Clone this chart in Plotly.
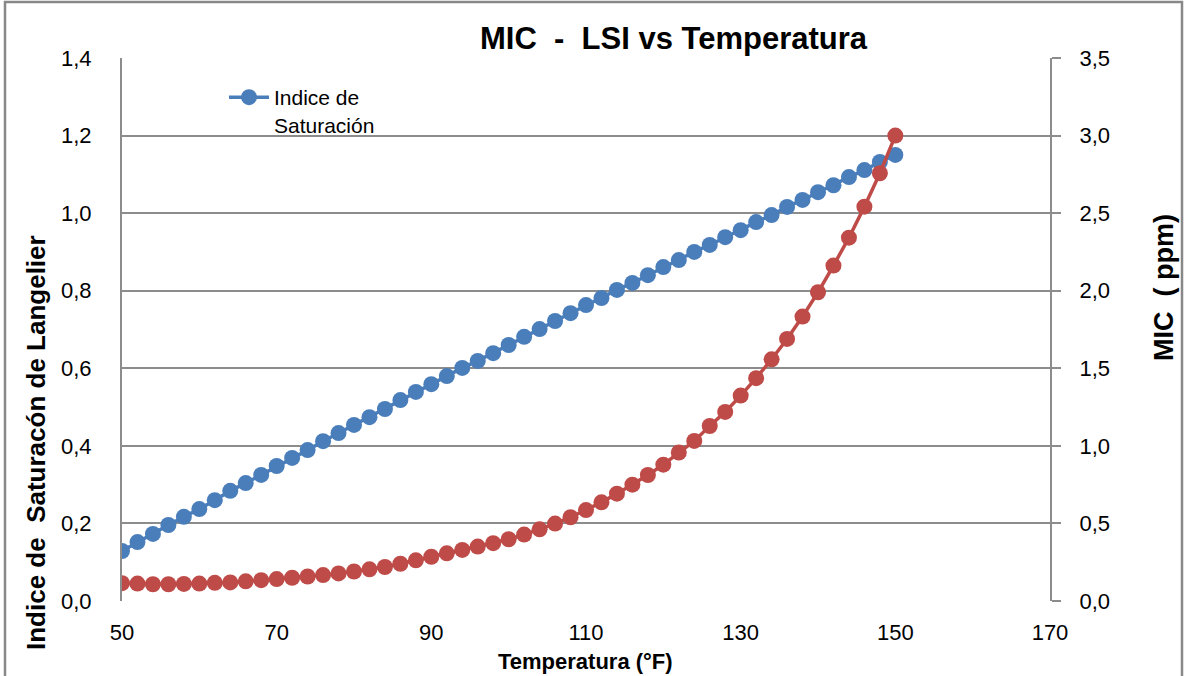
import plotly.graph_objects as go

temp = list(range(50, 151, 2))

lsi = [0.129, 0.152, 0.173, 0.196, 0.217, 0.237, 0.260, 0.284, 0.304, 0.325,
       0.348, 0.369, 0.389, 0.412, 0.433, 0.454, 0.474, 0.495, 0.518, 0.539,
       0.559, 0.580, 0.601, 0.619, 0.639, 0.660, 0.681, 0.701, 0.722, 0.742,
       0.763, 0.781, 0.802, 0.820, 0.840, 0.861, 0.879, 0.900, 0.918, 0.938,
       0.956, 0.977, 0.995, 1.016, 1.034, 1.054, 1.072, 1.093, 1.111, 1.132,
       1.150]

mic = [0.115, 0.112, 0.108, 0.108, 0.110, 0.112, 0.117, 0.120, 0.127, 0.134,
       0.141, 0.150, 0.158, 0.167, 0.178, 0.190, 0.204, 0.219, 0.240, 0.262,
       0.285, 0.307, 0.329, 0.351, 0.373, 0.398, 0.428, 0.462, 0.499, 0.540,
       0.586, 0.636, 0.692, 0.750, 0.812, 0.879, 0.957, 1.032, 1.128, 1.219,
       1.324, 1.436, 1.558, 1.689, 1.833, 1.990, 2.162, 2.342, 2.542, 2.757,
       3.000]

x_ticks = [50, 70, 90, 110, 130, 150, 170]

BLUE = "#4A7EBB"
RED = "#BE4B48"
GRID = "#8C8C8C"
FONT = "Liberation Sans"
TICK = 22

fig = go.Figure()
fig.add_trace(go.Scatter(
    x=temp, y=mic, yaxis="y2", mode="lines+markers", name="MIC",
    showlegend=False,
    line=dict(color=RED, width=3.5),
    marker=dict(color=RED, size=16),
))
fig.add_trace(go.Scatter(
    x=temp, y=lsi, mode="lines+markers", name="Indice de<br>Saturación",
    line=dict(color=BLUE, width=3.5),
    marker=dict(color=BLUE, size=16),
))

L, R, T, B = 122, 1050, 58, 601
W, H = 1188, 676
pw, ph = R - L, B - T

def px(p):
    return (p - L) / pw

def py(p):
    return (B - p) / ph

fig.update_layout(
    width=W, height=H,
    margin=dict(l=L, r=W - R, t=T, b=H - B, pad=0),
    paper_bgcolor="white", plot_bgcolor="white",
    separators=", ",
    font=dict(family=FONT, size=TICK, color="#000000"),
    xaxis=dict(
        range=[50, 170], tickvals=x_ticks, showgrid=False, zeroline=False,
        showline=False, ticks="", ticklen=0,
        tickfont=dict(size=TICK, family=FONT), ticklabelstandoff=16,
    ),
    yaxis=dict(
        range=[0, 1.4], dtick=0.2, tickformat=".1f",
        showgrid=True, gridcolor=GRID, gridwidth=2,
        zeroline=False, showline=True, linecolor=GRID, linewidth=2,
        ticks="", tickfont=dict(size=TICK, family=FONT), ticklabelstandoff=24,
    ),
    yaxis2=dict(
        range=[0, 3.5], dtick=0.5, tickformat=".1f", overlaying="y",
        side="right", showgrid=False, zeroline=False, showline=True,
        linecolor=GRID, linewidth=2, ticks="outside", ticklen=9,
        tickcolor=GRID, tickwidth=2,
        tickfont=dict(size=TICK, family=FONT), ticklabelstandoff=14,
    ),
    legend=dict(
        x=px(224), y=py(77), xanchor="left", yanchor="top", valign="top",
        bgcolor="rgba(0,0,0,0)", font=dict(size=21, family=FONT),
        itemwidth=40, tracegroupgap=0,
    ),
    showlegend=True,
)

fig.add_annotation(
    text="<b>MIC  -  LSI vs Temperatura</b>", xref="paper", yref="paper",
    x=px(674), y=py(38), xanchor="center", yanchor="middle",
    showarrow=False, font=dict(size=31, family=FONT, color="#000"),
)
fig.add_annotation(
    text="<b>Temperatura (°F)</b>", xref="paper", yref="paper",
    x=px(585), y=py(661), xanchor="center", yanchor="middle",
    showarrow=False, font=dict(size=22, family=FONT, color="#000"),
)
fig.add_annotation(
    text="<b>Indice de  Saturacón de Langelier</b>", xref="paper", yref="paper",
    x=px(36), y=py(443), xanchor="center", yanchor="middle", textangle=-90,
    showarrow=False, font=dict(size=26, family=FONT, color="#000"),
)
fig.add_annotation(
    text="<b>MIC  ( ppm)</b>", xref="paper", yref="paper",
    x=px(1164), y=py(288), xanchor="center", yanchor="middle", textangle=-90,
    showarrow=False, font=dict(size=27, family=FONT, color="#000"),
)
fig.add_shape(
    type="rect", xref="paper", yref="paper",
    x0=px(5), x1=px(1182), y0=py(690), y1=py(2),
    line=dict(color="#888888", width=2.5), fillcolor="rgba(0,0,0,0)",
    layer="below",
)

fig.write_html("out.html")
